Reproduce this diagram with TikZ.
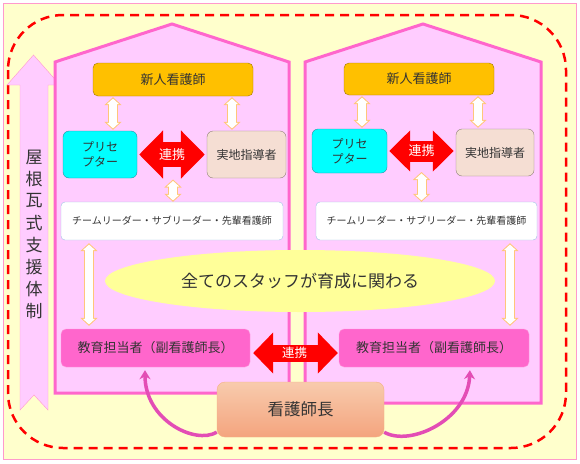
\documentclass[tikz,border=0pt]{standalone}
\usepackage{fontspec}
\setmainfont{Noto Sans CJK JP}
\usetikzlibrary{arrows.meta,shapes.geometric}
\definecolor{bgyel}{HTML}{FFFFCC}
\definecolor{frpink}{HTML}{FF99CC}
\definecolor{hsfill}{HTML}{FFCCFF}
\definecolor{hsline}{HTML}{FF66CC}
\definecolor{newfill}{HTML}{FFC000}
\definecolor{newline}{HTML}{A07800}
\definecolor{prefill}{HTML}{00FFFF}
\definecolor{preline}{HTML}{2B8FA0}
\definecolor{jitfill}{HTML}{F5DED3}
\definecolor{jitline}{HTML}{8F7F78}
\definecolor{tmline}{HTML}{9DC3E6}
\definecolor{ellfill}{HTML}{FFFF99}
\definecolor{edufill}{HTML}{FF66CC}
\definecolor{eduline}{HTML}{FF99DD}
\definecolor{bosstop}{HTML}{F8CBAD}
\definecolor{bossbot}{HTML}{F4A47E}
\definecolor{bossline}{HTML}{F4B183}
\definecolor{arrline}{HTML}{FFC67A}
\definecolor{curvarr}{HTML}{E34DB5}
\definecolor{txtgray}{HTML}{333333}

\tikzset{
	box/.style={draw, rounded corners=5pt, inner sep=0pt, text=txtgray, align=center},
	newbox/.style={box, draw=newline, fill=newfill, font=\fontsize{13}{13}\selectfont},
	prebox/.style={box, draw=preline, fill=prefill, rounded corners=6pt, font=\fontsize{12}{15}\selectfont},
	jitbox/.style={box, draw=jitline, fill=jitfill, rounded corners=6pt, font=\fontsize{12}{12}\selectfont},
	teambox/.style={box, draw=tmline, fill=white, rounded corners=4pt, font=\fontsize{10}{10}\selectfont},
	edubox/.style={box, draw=eduline, fill=edufill, font=\fontsize{13}{13}\selectfont},
	house/.style={draw=hsline, fill=hsfill, line width=3pt},
	wout/.style={draw=arrline, line width=10pt, {Triangle[width=17pt,length=8pt]}-{Triangle[width=17pt,length=8pt]}},
	win/.style={draw=white, line width=8pt, {Triangle[width=12pt,length=5.6pt]}-{Triangle[width=12pt,length=5.6pt]}},
	renkei/.style={draw=red, shorten <=2pt, shorten >=2pt},
	rklabel/.style={text=white, inner sep=0pt, font=\fontsize{13}{13}\selectfont},
	curv/.style={draw=curvarr, line width=3.5pt, -{Stealth[width=11pt,length=9pt]}, shorten >=3pt},
}
\newcommand{\wlink}[3][1pt]{
	\draw[wout, shorten <=#1, shorten >=#1] (#2) -- (#3);
	\draw[win, shorten <=#1+1.4pt, shorten >=#1+1.4pt] (#2) -- (#3);
}

\begin{document}
\begin{tikzpicture}[x=1pt,y=-1pt]
	\useasboundingbox (0,0) rectangle (580,463);
	\fill[white] (0,0) rectangle (580,463);
	\draw[frpink, fill=bgyel] (3,3) rectangle (576,459);
	\draw[red, line width=2.5pt, dash pattern=on 9pt off 6pt, rounded corners=55pt] (8,15) rectangle (566,448);

	\draw[frpink, fill=hsfill] (20,410) -- (20,85) -- (7,85) -- (33.5,55) -- (60,85) -- (48,85) -- (48,410) -- (34,395) -- cycle;
	\foreach \c [count=\i] in {屋,根,瓦,式,支,援,体,制}
		\node[text=txtgray, font=\fontsize{17}{17}\selectfont] (roof\i) at (34,{135+22*\i}) {\c};

	\draw[house] (55,393) -- (55,62) -- (172,24) -- (289,62) -- (289,393) -- cycle;
	\draw[house] (305,403) -- (305,62) -- (423,24) -- (541,62) -- (541,403) -- cycle;

	\node[newbox, minimum width=160pt, minimum height=33pt] (nnL) at (173,79.5) {新人看護師};
	\node[newbox, minimum width=150pt, minimum height=32pt] (nnR) at (419,79) {新人看護師};
	\node[prebox, minimum width=74pt, minimum height=47pt] (prL) at (100,154.5) {プリセ\\プター};
	\node[jitbox, minimum width=79pt, minimum height=47pt] (jiL) at (246.5,154.5) {実地指導者};
	\node[prebox, minimum width=75pt, minimum height=44pt] (prR) at (349.5,151) {プリセ\\プター};
	\node[jitbox, minimum width=78pt, minimum height=47pt] (jiR) at (495,152.5) {実地指導者};
	\node[teambox, minimum width=222pt, minimum height=38pt] (tmL) at (172,221) {チームリーダー・サブリーダー・先輩看護師};
	\node[teambox, minimum width=221pt, minimum height=38pt] (tmR) at (426.5,221) {チームリーダー・サブリーダー・先輩看護師};
	\node[edubox, minimum width=189pt, minimum height=38pt] (eduL) at (155.5,348) {教育担当者（副看護師長）};
	\node[edubox, minimum width=190pt, minimum height=38pt] (eduR) at (434,348) {教育担当者（副看護師長）};

	\draw[renkei, line width=25pt, {Triangle[width=47pt,length=24pt]}-{Triangle[width=47pt,length=24pt]}] (prL.east) -- (jiL.west)
		node[rklabel, midway, minimum height=25pt] (rkL) {連携};
	\draw[renkei, line width=21pt, {Triangle[width=40pt,length=21pt]}-{Triangle[width=40pt,length=21pt]}] (prR.east) -- (prR.east -| jiR.west)
		node[rklabel, midway, minimum height=21pt] (rkR) {連携};

	\wlink{[xshift=13pt]prL.north |- nnL.south}{[xshift=13pt]prL.north}
	\wlink{[xshift=-14.5pt]jiL.north |- nnL.south}{[xshift=-14.5pt]jiL.north}
	\wlink{[xshift=12.5pt]prR.north |- nnR.south}{[xshift=12.5pt]prR.north}
	\wlink{[xshift=-17pt]jiR.north |- nnR.south}{[xshift=-17pt]jiR.north}
	\wlink[0pt]{[xshift=1pt]rkL.south}{[xshift=1pt]rkL.south |- tmL.north}
	\wlink[0pt]{rkR.south}{rkR.south |- tmR.north}
	\wlink[3pt]{[xshift=-83pt]tmL.south}{[xshift=-83pt]tmL.south |- eduL.north}
	\wlink[3pt]{[xshift=83.5pt]tmR.south}{[xshift=83.5pt]tmR.south |- eduR.north}

	\node[ellipse, fill=ellfill, minimum width=390pt, minimum height=62pt, inner sep=0pt, text=txtgray, font=\fontsize{17}{17}\selectfont] (all) at (300,281) {全てのスタッフが育成に関わる};

	\draw[renkei, line width=17pt, shorten <=3pt, shorten >=1pt, {Triangle[width=40pt,length=20pt]}-{Triangle[width=40pt,length=20pt]}] ([yshift=-5pt]eduL.east) -- ([yshift=-5pt]eduR.west)
		node[rklabel, midway, font=\fontsize{12.5}{12.5}\selectfont] (rkB) {連携};

	\node[box, draw=bossline, top color=bosstop, bottom color=bossbot, rounded corners=8pt, minimum width=167pt, minimum height=55pt, font=\fontsize{16.5}{16.5}\selectfont] (boss) at (300.5,409.5) {看護師長};

	\draw[curv] ([yshift=5pt]boss.south west) .. controls (195,445) and (145,420) .. ([xshift=-10.5pt]eduL.south);
	\draw[curv] ([yshift=5pt]boss.south east) .. controls (410,447) and (468,420) .. ([xshift=36pt]eduR.south);
\end{tikzpicture}
\end{document}
